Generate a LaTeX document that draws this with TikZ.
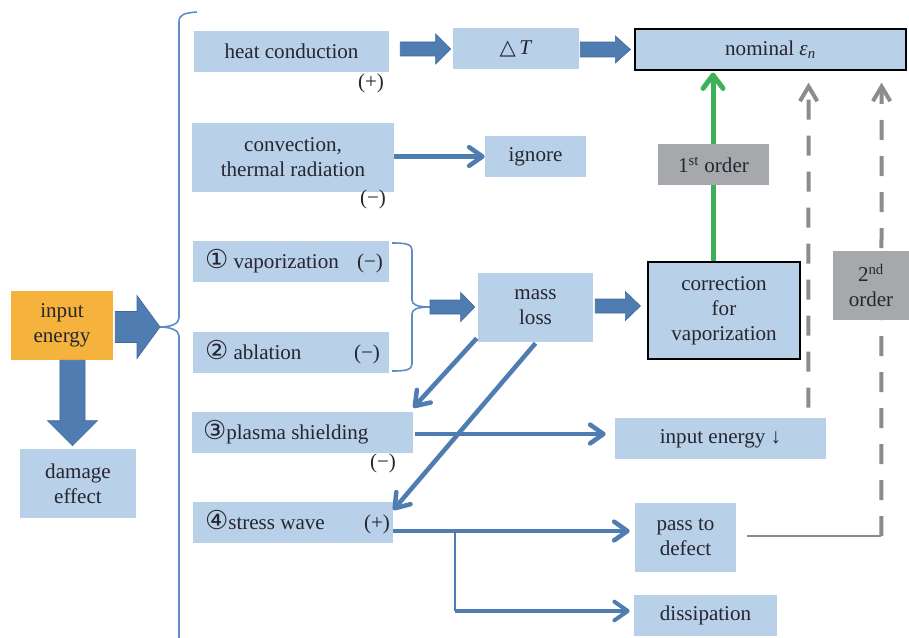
\documentclass[tikz,border=0pt]{standalone}
\usepackage{fontspec}
\setmainfont{Liberation Serif}
\newfontfamily\symf{DejaVu Sans}
\usetikzlibrary{arrows.meta,calc}
\definecolor{boxblue}{HTML}{B8D0E8}
\definecolor{arrowblue}{HTML}{4F7DB1}
\definecolor{arrowedge}{HTML}{43699A}
\definecolor{orangebox}{HTML}{F5B23C}
\definecolor{greenline}{HTML}{3DB157}
\definecolor{greybox}{HTML}{A7A8AB}
\definecolor{greyline}{HTML}{8C8C8C}
\definecolor{bracecol}{HTML}{5F8CC2}
\definecolor{txt}{HTML}{262630}
\newcommand\circd[1]{{\symf\fontsize{19.5}{19.5}\selectfont #1}}
\newcommand\blockarrow[5]{%
  \coordinate (ba1) at #1; \coordinate (ba2) at #2;
  \coordinate (bah) at ($(ba2)!#5!(ba1)$);
  \filldraw[fill=arrowblue,draw=arrowedge,line width=0.5pt]
    ($(ba1)!#3!90:(ba2)$) -- ($(bah)!#3!90:(ba2)$) -- ($(bah)!#4!90:(ba2)$) -- (ba2)
    -- ($(bah)!#4!-90:(ba2)$) -- ($(bah)!#3!-90:(ba2)$) -- ($(ba1)!#3!-90:(ba2)$) -- cycle;}
\begin{document}
\begin{tikzpicture}[x=0.75pt,y=-0.75pt,
  every node/.style={font=\fontsize{15.8}{18.8}\selectfont, text=txt},
  box/.style={fill=boxblue, inner sep=0pt, align=center},
  sz/.style 2 args={minimum width=#1*0.75pt, minimum height=#2*0.75pt},
  flow/.style={draw=arrowblue, line width=3.4pt, -{Straight Barb[length=10pt,width=14pt,round]}},
  greenflow/.style={draw=greenline, line width=3.75pt, -{Straight Barb[length=10pt,width=15pt,round]}},
  greyflow/.style={draw=greyline, line width=3pt, dash pattern=on 15pt off 12pt, -{Straight Barb[length=11pt,width=13pt]}},
  brace/.style={draw=bracecol, line width=1.2pt}]
\useasboundingbox (0,0) rectangle (909,638);

% nodes
\node[box,sz={195}{41}] (heat) at (291.5,51.5) {heat conduction};
\node[box,sz={202}{69}] (conv) at (293,157.5) {convection,\\thermal radiation};
\node[box,sz={126}{41}] (dT) at (516,48.5) {{\symf △}\,\textit{T}};
\node[box,sz={271}{41},draw=black,line width=0.9pt] (nominal) at (770.5,49.5) {nominal \textit{ε}\textsubscript{\textit{n}}};
\node[box,sz={101}{41}] (ignore) at (535.5,156.5) {ignore};
\node[box,sz={102}{69},fill=orangebox] (input) at (62,325.5) {input\\energy};
\node[box,sz={116}{69}] (damage) at (78,483.5) {damage\\effect};
\node[box,sz={196}{41}] (vap) at (291,261.5) {\makebox[147pt][l]{\hspace{9pt}\circd{①} vaporization\hfill(−)\hspace{4.5pt}}};
\node[box,sz={196}{41}] (abl) at (291,352.5) {\makebox[147pt][l]{\hspace{9pt}\circd{②} ablation\hfill(−)\hspace{6.75pt}}};
\node[box,sz={115}{69}] (mass) at (535.5,307.5) {mass\\loss};
\node[box,sz={152}{97},draw=black,line width=0.9pt] (corr) at (724,310.5) {correction\\for\\vaporization};
\node[box,sz={221}{41}] (plasma) at (302.5,432.5) {\makebox[165.75pt][l]{\hspace{8.25pt}\circd{③}plasma shielding}};
\node[box,sz={200}{41}] (stress) at (293,522.5) {\makebox[150pt][l]{\hspace{9pt}\circd{④}stress wave\hfill(+)\hspace{2.25pt}}};
\node[box,sz={211}{41}] (ienergy) at (720.5,438.5) {input energy ↓};
\node[box,sz={101}{69}] (pass) at (685.5,537.5) {pass to\\defect};
\node[box,sz={143}{41}] (diss) at (705.5,615.5) {dissipation};

\node (plus1) at (371,83) {(+)};
\node (minus1) at (373,199) {(−)};
\node (minus2) at (383,463) {(−)};

% braces
\coordinate (btip) at (160,327);
\coordinate (btip2) at (430,307);
\draw[brace] (197,12) .. controls (185,13) and (179,14) .. (179,22) -- (179,318)
  .. controls (179,324) and (170,327) .. (btip) .. controls (170,327) and (179,330) .. (179,336) -- (179,640);
\draw[brace] (392,243) .. controls (405,243) and (412,244) .. (412,250) -- (412,300)
  .. controls (412,305) and (418,307) .. (btip2) .. controls (418,307) and (412,309) .. (412,314)
  -- (412,364) .. controls (412,370) and (405,371) .. (392,371);

% block arrows
\blockarrow{($(heat.east)+(11,-2.5)$)}{($(dT.west)+(-2,0.5)$)}{5.25pt}{11.25pt}{11.25pt}
\blockarrow{($(dT.east)+(1,1)$)}{($(nominal.west)+(-4,0)$)}{5.6pt}{10.1pt}{11.25pt}
\blockarrow{($(input.east)+(2,1.5)$)}{(btip)}{11.6pt}{23.6pt}{17.25pt}
\blockarrow{($(input.south)+(10.5,0)$)}{($(damage.north)+(-5.5,-3)$)}{9.4pt}{18.75pt}{18.75pt}
\blockarrow{(btip2)}{($(mass.west)+(-3,-0.5)$)}{5.25pt}{10.9pt}{10.5pt}
\blockarrow{($(mass.east)+(2,-1.5)$)}{($(corr.west)+(-7,-4.5)$)}{5.25pt}{10.9pt}{11.25pt}

% line arrows
\draw[flow] (conv.east |- ignore.west) -- (ignore.west);
\draw[flow] ($(mass.south west)+(-1,-4)$) -- ($(plasma.north east)+(0,-4)$);
\draw[flow] ($(mass.south)+(0,1)$) -- ($(stress.east)+(0,-12.5)$);
\draw[flow] ($(plasma.east)+(2,1.5)$) -- ($(ienergy.west)+(-9,-4.5)$);
\draw[flow] ($(stress.east)+(0,8.5)$) -- ($(pass.west)+(-5,-6.5)$);
\coordinate (br) at ($(stress.east)+(62,8.5)$);
\coordinate (brb) at ($(br)+(0,80)$);
\draw[draw=arrowblue, line width=1.5pt] (br) -- (brb);
\draw[flow, line width=3pt] (brb) -- ($(diss.west)+(-4,-4.5)$);

\draw[greenflow] ($(corr.north)+(-11,0)$) -- ($(nominal.south)+(-57.5,2)$);
\coordinate (c2) at ($(pass.east)+(145,-1.5)$);
\draw[draw=greyline, line width=1pt] ($(pass.east)+(11,-1.5)$) -- (c2);
\draw[greyflow] ($(ienergy.north east)+(-18,-10)$) -- ($(nominal.south east)+(-98,12)$);
\draw[greyflow] (c2) -- ($(nominal.south east)+(-25,12)$);

% overlay labels
\node[box,sz={111}{41},fill=greybox] (first) at (713.5,164.5) {1\textsuperscript{st} order};
\node[box,sz={76}{69},fill=greybox] (second) at (871,285.5) {2\textsuperscript{nd}\\order};
\end{tikzpicture}
\end{document}
